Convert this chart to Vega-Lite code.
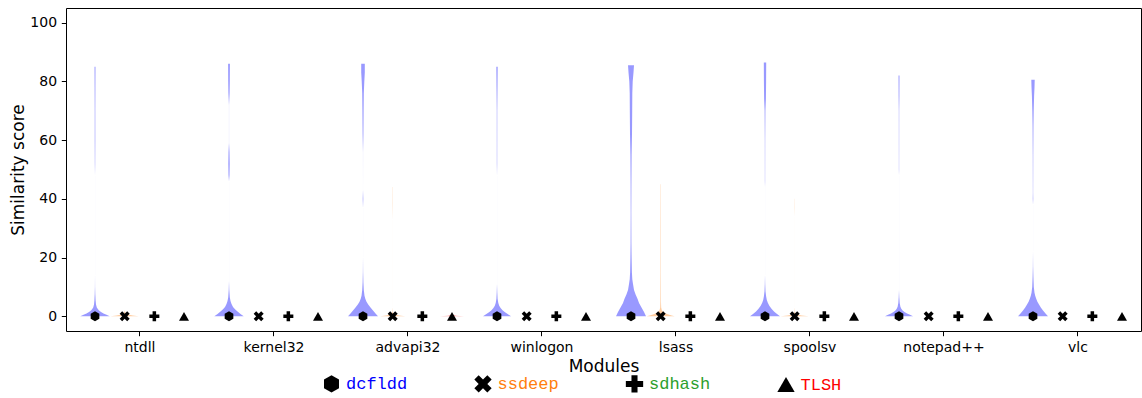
{
  "$schema": "https://vega.github.io/schema/vega-lite/v6.json",
  "width": 1075,
  "height": 323,
  "autosize": {"type": "none"},
  "padding": {"left": 66, "top": 8, "right": 1, "bottom": 67},
  "config": {
    "font": "DejaVu Sans",
    "view": {"stroke": "black", "strokeWidth": 1},
    "axis": {
      "domain": false, "grid": false, "tickColor": "black", "tickSize": 4.7, "tickWidth": 1,
      "labelColor": "black", "labelFont": "DejaVu Sans", "labelFontSize": 14, "labelPadding": 4.7,
      "titleFont": "DejaVu Sans", "titleFontSize": 17, "titleFontWeight": "normal", "titleColor": "black"
    }
  },
  "datasets": {
    "violins": [
      {"module":"ntdll","tool":"dcfldd","score":0,"density":14.7},{"module":"ntdll","tool":"dcfldd","score":0.5,"density":11.5},{"module":"ntdll","tool":"dcfldd","score":1,"density":8.5},{"module":"ntdll","tool":"dcfldd","score":1.5,"density":6},{"module":"ntdll","tool":"dcfldd","score":2,"density":4},{"module":"ntdll","tool":"dcfldd","score":2.5,"density":2.8},{"module":"ntdll","tool":"dcfldd","score":3,"density":1.8},{"module":"ntdll","tool":"dcfldd","score":4,"density":1},{"module":"ntdll","tool":"dcfldd","score":5.5,"density":0.6},{"module":"ntdll","tool":"dcfldd","score":7.5,"density":0.3},{"module":"ntdll","tool":"dcfldd","score":10,"density":0.1},{"module":"ntdll","tool":"dcfldd","score":14,"density":0.01},{"module":"ntdll","tool":"dcfldd","score":48,"density":0.01},{"module":"ntdll","tool":"dcfldd","score":52,"density":0.2},{"module":"ntdll","tool":"dcfldd","score":60,"density":0.3},{"module":"ntdll","tool":"dcfldd","score":70,"density":0.3},{"module":"ntdll","tool":"dcfldd","score":78,"density":0.4},{"module":"ntdll","tool":"dcfldd","score":85,"density":0.5},

      {"module":"kernel32","tool":"dcfldd","score":0,"density":14.7},{"module":"kernel32","tool":"dcfldd","score":0.8,"density":11.5},{"module":"kernel32","tool":"dcfldd","score":1.6,"density":8.5},{"module":"kernel32","tool":"dcfldd","score":2.4,"density":6},{"module":"kernel32","tool":"dcfldd","score":3.2,"density":4},{"module":"kernel32","tool":"dcfldd","score":4.2,"density":2.5},{"module":"kernel32","tool":"dcfldd","score":5.2,"density":1.5},{"module":"kernel32","tool":"dcfldd","score":6.5,"density":0.8},{"module":"kernel32","tool":"dcfldd","score":9,"density":0.3},{"module":"kernel32","tool":"dcfldd","score":12,"density":0.01},{"module":"kernel32","tool":"dcfldd","score":46,"density":0.01},{"module":"kernel32","tool":"dcfldd","score":48,"density":0.5},{"module":"kernel32","tool":"dcfldd","score":52,"density":0.7},{"module":"kernel32","tool":"dcfldd","score":56,"density":0.5},{"module":"kernel32","tool":"dcfldd","score":59,"density":0.05},{"module":"kernel32","tool":"dcfldd","score":72,"density":0.05},{"module":"kernel32","tool":"dcfldd","score":76,"density":0.6},{"module":"kernel32","tool":"dcfldd","score":80,"density":0.8},{"module":"kernel32","tool":"dcfldd","score":86,"density":0.9},

      {"module":"advapi32","tool":"dcfldd","score":0,"density":15},{"module":"advapi32","tool":"dcfldd","score":1,"density":12.5},{"module":"advapi32","tool":"dcfldd","score":2,"density":10},{"module":"advapi32","tool":"dcfldd","score":3,"density":7.5},{"module":"advapi32","tool":"dcfldd","score":4,"density":5.2},{"module":"advapi32","tool":"dcfldd","score":5,"density":3.5},{"module":"advapi32","tool":"dcfldd","score":6,"density":2.3},{"module":"advapi32","tool":"dcfldd","score":7,"density":1.5},{"module":"advapi32","tool":"dcfldd","score":9,"density":0.8},{"module":"advapi32","tool":"dcfldd","score":11.5,"density":0.4},{"module":"advapi32","tool":"dcfldd","score":15,"density":0.15},{"module":"advapi32","tool":"dcfldd","score":20,"density":0.01},{"module":"advapi32","tool":"dcfldd","score":37,"density":0.01},{"module":"advapi32","tool":"dcfldd","score":40,"density":0.3},{"module":"advapi32","tool":"dcfldd","score":43,"density":0.01},{"module":"advapi32","tool":"dcfldd","score":56,"density":0.05},{"module":"advapi32","tool":"dcfldd","score":62,"density":0.4},{"module":"advapi32","tool":"dcfldd","score":70,"density":0.6},{"module":"advapi32","tool":"dcfldd","score":76,"density":0.8},{"module":"advapi32","tool":"dcfldd","score":80,"density":1.3},{"module":"advapi32","tool":"dcfldd","score":83,"density":1.8},{"module":"advapi32","tool":"dcfldd","score":86,"density":1.8},

      {"module":"winlogon","tool":"dcfldd","score":0,"density":14},{"module":"winlogon","tool":"dcfldd","score":0.7,"density":11},{"module":"winlogon","tool":"dcfldd","score":1.4,"density":8},{"module":"winlogon","tool":"dcfldd","score":2.1,"density":5.5},{"module":"winlogon","tool":"dcfldd","score":2.8,"density":3.6},{"module":"winlogon","tool":"dcfldd","score":3.6,"density":2.2},{"module":"winlogon","tool":"dcfldd","score":4.5,"density":1.3},{"module":"winlogon","tool":"dcfldd","score":6,"density":0.6},{"module":"winlogon","tool":"dcfldd","score":8,"density":0.3},{"module":"winlogon","tool":"dcfldd","score":11,"density":0.01},{"module":"winlogon","tool":"dcfldd","score":48,"density":0.01},{"module":"winlogon","tool":"dcfldd","score":52,"density":0.2},{"module":"winlogon","tool":"dcfldd","score":70,"density":0.25},{"module":"winlogon","tool":"dcfldd","score":78,"density":0.5},{"module":"winlogon","tool":"dcfldd","score":85,"density":0.7},

      {"module":"lsass","tool":"dcfldd","score":0,"density":15},{"module":"lsass","tool":"dcfldd","score":1.5,"density":13},{"module":"lsass","tool":"dcfldd","score":3,"density":10.5},{"module":"lsass","tool":"dcfldd","score":4.5,"density":8},{"module":"lsass","tool":"dcfldd","score":5.8,"density":6.7},{"module":"lsass","tool":"dcfldd","score":7.5,"density":4.5},{"module":"lsass","tool":"dcfldd","score":9,"density":3},{"module":"lsass","tool":"dcfldd","score":11,"density":2},{"module":"lsass","tool":"dcfldd","score":12.6,"density":1.3},{"module":"lsass","tool":"dcfldd","score":15,"density":0.9},{"module":"lsass","tool":"dcfldd","score":20,"density":0.6},{"module":"lsass","tool":"dcfldd","score":25,"density":0.4},{"module":"lsass","tool":"dcfldd","score":35,"density":0.3},{"module":"lsass","tool":"dcfldd","score":45,"density":0.4},{"module":"lsass","tool":"dcfldd","score":55,"density":0.6},{"module":"lsass","tool":"dcfldd","score":62,"density":1},{"module":"lsass","tool":"dcfldd","score":70,"density":1.2},{"module":"lsass","tool":"dcfldd","score":76,"density":1.3},{"module":"lsass","tool":"dcfldd","score":80,"density":1.7},{"module":"lsass","tool":"dcfldd","score":83,"density":2.5},{"module":"lsass","tool":"dcfldd","score":85.5,"density":3},

      {"module":"spoolsv","tool":"dcfldd","score":0,"density":15},{"module":"spoolsv","tool":"dcfldd","score":0.8,"density":12},{"module":"spoolsv","tool":"dcfldd","score":1.6,"density":9},{"module":"spoolsv","tool":"dcfldd","score":2.6,"density":6.5},{"module":"spoolsv","tool":"dcfldd","score":3.6,"density":4.3},{"module":"spoolsv","tool":"dcfldd","score":4.6,"density":2.8},{"module":"spoolsv","tool":"dcfldd","score":5.6,"density":1.8},{"module":"spoolsv","tool":"dcfldd","score":6.8,"density":1.1},{"module":"spoolsv","tool":"dcfldd","score":8.5,"density":0.5},{"module":"spoolsv","tool":"dcfldd","score":11,"density":0.2},{"module":"spoolsv","tool":"dcfldd","score":14,"density":0.01},{"module":"spoolsv","tool":"dcfldd","score":44,"density":0.01},{"module":"spoolsv","tool":"dcfldd","score":46,"density":0.15},{"module":"spoolsv","tool":"dcfldd","score":60,"density":0.2},{"module":"spoolsv","tool":"dcfldd","score":70,"density":0.4},{"module":"spoolsv","tool":"dcfldd","score":74,"density":0.9},{"module":"spoolsv","tool":"dcfldd","score":80,"density":1.1},{"module":"spoolsv","tool":"dcfldd","score":86.4,"density":1.2},

      {"module":"notepad++","tool":"dcfldd","score":0,"density":14},{"module":"notepad++","tool":"dcfldd","score":0.5,"density":11},{"module":"notepad++","tool":"dcfldd","score":1,"density":8},{"module":"notepad++","tool":"dcfldd","score":1.5,"density":5.5},{"module":"notepad++","tool":"dcfldd","score":2,"density":3.6},{"module":"notepad++","tool":"dcfldd","score":2.6,"density":2.3},{"module":"notepad++","tool":"dcfldd","score":3.3,"density":1.4},{"module":"notepad++","tool":"dcfldd","score":4.5,"density":0.7},{"module":"notepad++","tool":"dcfldd","score":6.5,"density":0.3},{"module":"notepad++","tool":"dcfldd","score":9,"density":0.01},{"module":"notepad++","tool":"dcfldd","score":48,"density":0.01},{"module":"notepad++","tool":"dcfldd","score":50,"density":0.15},{"module":"notepad++","tool":"dcfldd","score":70,"density":0.2},{"module":"notepad++","tool":"dcfldd","score":75,"density":0.4},{"module":"notepad++","tool":"dcfldd","score":82,"density":0.5},

      {"module":"vlc","tool":"dcfldd","score":0,"density":15},{"module":"vlc","tool":"dcfldd","score":1,"density":12.5},{"module":"vlc","tool":"dcfldd","score":2,"density":10},{"module":"vlc","tool":"dcfldd","score":3,"density":7.8},{"module":"vlc","tool":"dcfldd","score":4,"density":6},{"module":"vlc","tool":"dcfldd","score":5,"density":4.4},{"module":"vlc","tool":"dcfldd","score":6,"density":3.2},{"module":"vlc","tool":"dcfldd","score":7,"density":2.2},{"module":"vlc","tool":"dcfldd","score":8,"density":1.5},{"module":"vlc","tool":"dcfldd","score":10,"density":0.8},{"module":"vlc","tool":"dcfldd","score":13.6,"density":0.4},{"module":"vlc","tool":"dcfldd","score":17,"density":0.15},{"module":"vlc","tool":"dcfldd","score":22,"density":0.01},{"module":"vlc","tool":"dcfldd","score":38,"density":0.01},{"module":"vlc","tool":"dcfldd","score":40,"density":0.25},{"module":"vlc","tool":"dcfldd","score":42,"density":0.15},{"module":"vlc","tool":"dcfldd","score":55,"density":0.25},{"module":"vlc","tool":"dcfldd","score":65,"density":0.45},{"module":"vlc","tool":"dcfldd","score":70,"density":0.7},{"module":"vlc","tool":"dcfldd","score":75,"density":1.1},{"module":"vlc","tool":"dcfldd","score":78,"density":1.5},{"module":"vlc","tool":"dcfldd","score":80.6,"density":1.7},

      {"module":"ntdll","tool":"ssdeep","score":0,"density":14},{"module":"ntdll","tool":"ssdeep","score":0.3,"density":8},{"module":"ntdll","tool":"ssdeep","score":0.6,"density":3.5},{"module":"ntdll","tool":"ssdeep","score":1,"density":1.2},{"module":"ntdll","tool":"ssdeep","score":1.5,"density":0.3},{"module":"ntdll","tool":"ssdeep","score":2,"density":0.05},

      {"module":"advapi32","tool":"ssdeep","score":0,"density":12.5},{"module":"advapi32","tool":"ssdeep","score":0.3,"density":6.5},{"module":"advapi32","tool":"ssdeep","score":0.6,"density":2.5},{"module":"advapi32","tool":"ssdeep","score":1,"density":0.8},{"module":"advapi32","tool":"ssdeep","score":1.5,"density":0.2},{"module":"advapi32","tool":"ssdeep","score":3,"density":0.01},{"module":"advapi32","tool":"ssdeep","score":33,"density":0.01},{"module":"advapi32","tool":"ssdeep","score":38,"density":0.12},{"module":"advapi32","tool":"ssdeep","score":44,"density":0.1},

      {"module":"lsass","tool":"ssdeep","score":0,"density":14},{"module":"lsass","tool":"ssdeep","score":0.3,"density":11},{"module":"lsass","tool":"ssdeep","score":0.7,"density":7},{"module":"lsass","tool":"ssdeep","score":1.2,"density":3.5},{"module":"lsass","tool":"ssdeep","score":2,"density":1.2},{"module":"lsass","tool":"ssdeep","score":3,"density":0.5},{"module":"lsass","tool":"ssdeep","score":5,"density":0.3},{"module":"lsass","tool":"ssdeep","score":15,"density":0.2},{"module":"lsass","tool":"ssdeep","score":30,"density":0.2},{"module":"lsass","tool":"ssdeep","score":45,"density":0.15},

      {"module":"spoolsv","tool":"ssdeep","score":0,"density":14},{"module":"spoolsv","tool":"ssdeep","score":0.3,"density":7},{"module":"spoolsv","tool":"ssdeep","score":0.6,"density":2.5},{"module":"spoolsv","tool":"ssdeep","score":1,"density":0.8},{"module":"spoolsv","tool":"ssdeep","score":1.5,"density":0.2},{"module":"spoolsv","tool":"ssdeep","score":3,"density":0.01},{"module":"spoolsv","tool":"ssdeep","score":34,"density":0.01},{"module":"spoolsv","tool":"ssdeep","score":37,"density":0.1},{"module":"spoolsv","tool":"ssdeep","score":40,"density":0.08},

      {"module":"advapi32","tool":"TLSH","score":0,"density":12},{"module":"advapi32","tool":"TLSH","score":0.2,"density":4},{"module":"advapi32","tool":"TLSH","score":0.5,"density":1},{"module":"advapi32","tool":"TLSH","score":1,"density":0.2}
    ],
    "medians": [
      {"module":"ntdll","tool":"dcfldd","median":0},{"module":"ntdll","tool":"ssdeep","median":0},{"module":"ntdll","tool":"sdhash","median":0},{"module":"ntdll","tool":"TLSH","median":0},
      {"module":"kernel32","tool":"dcfldd","median":0},{"module":"kernel32","tool":"ssdeep","median":0},{"module":"kernel32","tool":"sdhash","median":0},{"module":"kernel32","tool":"TLSH","median":0},
      {"module":"advapi32","tool":"dcfldd","median":0},{"module":"advapi32","tool":"ssdeep","median":0},{"module":"advapi32","tool":"sdhash","median":0},{"module":"advapi32","tool":"TLSH","median":0},
      {"module":"winlogon","tool":"dcfldd","median":0},{"module":"winlogon","tool":"ssdeep","median":0},{"module":"winlogon","tool":"sdhash","median":0},{"module":"winlogon","tool":"TLSH","median":0},
      {"module":"lsass","tool":"dcfldd","median":0},{"module":"lsass","tool":"ssdeep","median":0},{"module":"lsass","tool":"sdhash","median":0},{"module":"lsass","tool":"TLSH","median":0},
      {"module":"spoolsv","tool":"dcfldd","median":0},{"module":"spoolsv","tool":"ssdeep","median":0},{"module":"spoolsv","tool":"sdhash","median":0},{"module":"spoolsv","tool":"TLSH","median":0},
      {"module":"notepad++","tool":"dcfldd","median":0},{"module":"notepad++","tool":"ssdeep","median":0},{"module":"notepad++","tool":"sdhash","median":0},{"module":"notepad++","tool":"TLSH","median":0},
      {"module":"vlc","tool":"dcfldd","median":0},{"module":"vlc","tool":"ssdeep","median":0},{"module":"vlc","tool":"sdhash","median":0},{"module":"vlc","tool":"TLSH","median":0}
    ]
  },
  "layer": [
    {
      "data": {"name": "violins"},
      "transform": [
        {"calculate": "indexof(['ntdll','kernel32','advapi32','winlogon','lsass','spoolsv','notepad++','vlc'], datum.module) + indexof(['dcfldd','ssdeep','sdhash','TLSH'], datum.tool) * 0.2214 - 0.332", "as": "center"},
        {"calculate": "datum.center - datum.density / 134", "as": "lo"},
        {"calculate": "datum.center + datum.density / 134", "as": "hi"},
        {"calculate": "datum.module + '|' + datum.tool", "as": "violin"}
      ],
      "mark": {"type": "area", "orient": "horizontal", "opacity": 0.4},
      "encoding": {
        "y": {"field": "score", "type": "quantitative", "scale": {"domain": [-5, 105], "nice": false, "zero": false},
              "axis": {"values": [0, 20, 40, 60, 80, 100], "title": "Similarity score", "titlePadding": 2}},
        "x": {"field": "lo", "type": "quantitative", "scale": {"domain": [-0.5485, 7.4739], "nice": false, "zero": false},
              "axis": {"values": [0, 1, 2, 3, 4, 5, 6, 7], "title": "Modules", "titlePadding": 4,
                       "labelExpr": "['ntdll','kernel32','advapi32','winlogon','lsass','spoolsv','notepad++','vlc'][datum.value]"}},
        "x2": {"field": "hi"},
        "fill": {"field": "tool", "type": "nominal", "legend": null,
                  "scale": {"domain": ["TLSH", "dcfldd", "sdhash", "ssdeep"], "range": ["#ff0000", "#0000ff", "#2ca02c", "#ff7f0e"]}},
        "detail": {"field": "violin", "type": "nominal"}
      }
    },
    {
      "data": {"name": "medians"},
      "transform": [
        {"calculate": "indexof(['ntdll','kernel32','advapi32','winlogon','lsass','spoolsv','notepad++','vlc'], datum.module) + indexof(['dcfldd','ssdeep','sdhash','TLSH'], datum.tool) * 0.2214 - 0.332", "as": "center"}
      ],
      "mark": {"type": "point", "filled": true, "color": "black", "opacity": 1, "size": 100},
      "encoding": {
        "x": {"field": "center", "type": "quantitative", "title": "Modules"},
        "y": {"field": "median", "type": "quantitative", "title": "Similarity score"},
        "shape": {
          "field": "tool", "type": "nominal",
          "scale": {"domain": ["dcfldd", "ssdeep", "sdhash", "TLSH"],
                    "range": ["M0,-1L0.866,-0.5L0.866,0.5L0,1L-0.866,0.5L-0.866,-0.5Z",
                              "M-1,-0.5L-0.5,-1L0,-0.5L0.5,-1L1,-0.5L0.5,0L1,0.5L0.5,1L0,0.5L-0.5,1L-1,0.5L-0.5,0Z",
                              "M-0.35,-1L0.35,-1L0.35,-0.35L1,-0.35L1,0.35L0.35,0.35L0.35,1L-0.35,1L-0.35,0.35L-1,0.35L-1,-0.35L-0.35,-0.35Z",
                              "triangle-up"]},
          "legend": {
            "orient": "none", "legendX": 256, "legendY": 366, "direction": "horizontal", "columns": 4,
            "title": null, "symbolSize": 300, "symbolFillColor": "black",
            "labelFont": "Liberation Mono", "labelFontSize": 17, "labelOffset": 5,
            "columnPadding": 62.5, "gridAlign": "all",
            "labelColor": {"expr": "datum.value === 'dcfldd' ? '#0000ff' : datum.value === 'ssdeep' ? '#ff7f0e' : datum.value === 'sdhash' ? '#2ca02c' : '#ff0000'"}
          }
        }
      }
    }
  ]
}
